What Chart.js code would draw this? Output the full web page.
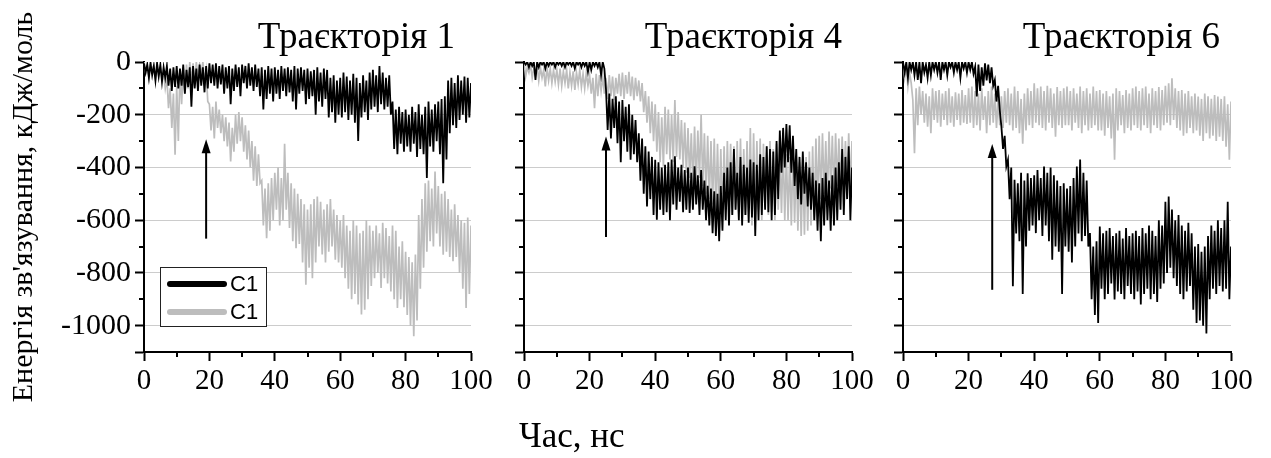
<!DOCTYPE html>
<html>
<head>
<meta charset="utf-8">
<script src="https://cdn.jsdelivr.net/npm/chart.js@4/dist/chart.umd.min.js"></script>
<style>
  body { margin: 0; background: #fff; }
  #fig { position: relative; width: 1271px; height: 458px; overflow: hidden; }
  #fig canvas { position: absolute; top: 0; }
  #xtitle { position: absolute; left: 519px; top: 420px; font: 35px/32px 'Liberation Serif', 'Times New Roman', serif; color: #000; white-space: nowrap; }
</style>
</head>
<body>
<div id="fig">
  <canvas id="p1" width="500" height="458" style="left:0px"></canvas>
  <canvas id="p2" width="400" height="458" style="left:480px"></canvas>
  <canvas id="p3" width="411" height="458" style="left:860px"></canvas>
  <div id="xtitle">Час, нс</div>
</div>
<script>
// крок запису, нс (значення читаються парами: верх / низ смуги шуму)
const stepNs = 0.5;

const panelTitles = ['Траєкторія 1', 'Траєкторія 4', 'Траєкторія 6'];
const seriesLabels = ['C1', 'C1'];
const yAxisTitle = "Енергія зв'язування, кДж/моль";
const yTickLabels = [0, -200, -400, -600, -800, -1000];
const xTickLabels = [0, 20, 40, 60, 80, 100];

// стрілки: час, нижній кінець, вістря
const arrowX = [19, 25, 27.2];
const arrowFrom = [-670, -664, -864];
const arrowTo = [-293, -283, -311];

// Траєкторія 1
const p1Black = [
  -5, -40, -10, -60, -5, -50, -15, -70, -5, -55, -10, -75, -20, -60, -15, -90, -25, -110, -20, -95,
  -15, -100, -25, -90, -10, -120, -30, -95, -20, -170, -15, -100, -25, -110, -10, -90, -20, -115, -15, -100,
  -5, -80, -10, -90, -5, -100, -15, -85, -10, -120, -20, -100, -15, -160, -25, -110, -10, -95, -20, -130,
  -10, -80, -15, -100, -5, -90, -20, -110, -10, -95, -25, -130, -20, -180, -30, -140, -15, -120, -25, -150,
  -20, -120, -30, -140, -15, -110, -25, -130, -20, -115, -30, -150, -15, -180, -25, -120, -20, -110, -30, -160,
  -25, -140, -35, -130, -30, -200, -20, -150, -40, -170, -25, -140, -30, -210, -60, -190, -50, -230, -70, -200,
  -60, -210, -40, -190, -55, -220, -70, -200, -45, -230, -60, -300, -80, -210, -50, -190, -70, -220, -40, -180,
  -30, -170, -50, -190, -15, -160, -40, -180, -60, -170, -50, -200, -150, -330, -180, -350, -170, -310, -190, -340,
  -180, -320, -200, -340, -170, -310, -190, -360, -160, -330, -200, -350, -170, -440, -150, -320, -180, -340, -160, -300,
  -150, -350, -140, -460, -130, -370, -70, -270, -60, -240, -80, -250, -50, -220, -70, -200, -55, -230, -60, -210, -80
];
const p1Grey = [
  0, -40, -10, -55, 0, -30, -15, -62, -5, -50, -20, -60, -40, -100, -60, -175, -100, -250, -120, -352,
  -90, -300, -30, -160, -25, -120, -10, -100, 0, -80, -5, -90, 0, -60, -10, -50, 0, -70, -30, -150,
  -160, -260, -170, -290, -150, -250, -180, -270, -200, -300, -210, -320, -230, -377, -250, -340, -200, -310, -190, -300,
  -210, -340, -240, -370, -260, -400, -300, -450, -320, -470, -350, -460, -450, -620, -480, -668, -460, -640, -440, -600,
  -420, -560, -400, -620, -440, -600, -310, -560, -420, -630, -460, -680, -480, -706, -500, -690, -520, -760, -540, -845,
  -560, -780, -540, -820, -520, -760, -510, -700, -530, -730, -560, -760, -540, -720, -520, -700, -560, -750, -580, -760,
  -600, -780, -580, -820, -620, -860, -640, -900, -600, -880, -620, -920, -650, -958, -640, -940, -600, -900, -620, -850,
  -640, -820, -620, -800, -650, -857, -610, -820, -630, -840, -660, -870, -620, -900, -640, -933, -700, -900, -680, -930,
  -720, -960, -740, -1000, -760, -1040, -730, -980, -580, -860, -520, -780, -460, -720, -450, -680, -480, -700, -415, -650,
  -470, -700, -500, -731, -490, -720, -520, -740, -560, -756, -540, -740, -580, -800, -600, -860, -610, -933, -590, -880, -620
];

// Траєкторія 4
const p2Black = [
  0, -10, 0, -20, 0, -15, 0, -68, 0, -20, 0, -10, 0, -25, 0, -15, 0, -10, 0, -20,
  0, -10, 0, -15, 0, -20, 0, -10, 0, -15, 0, -25, 0, -10, 0, -20, 0, -15, 0, -37,
  0, -30, 0, -15, 0, -20, 0, -50, 0, -25, -105, -258, -120, -290, -140, -250, -130, -308, -150, -380,
  -144, -300, -170, -340, -160, -371, -200, -350, -220, -380, -270, -450, -290, -500, -320, -548, -340, -520, -360, -580,
  -371, -598, -380, -560, -400, -580, -390, -570, -380, -600, -370, -540, -358, -560, -400, -530, -390, -570, -410, -560,
  -400, -573, -420, -560, -396, -540, -430, -580, -410, -560, -450, -600, -470, -620, -480, -649, -490, -660, -500, -680,
  -470, -640, -420, -600, -400, -620, -380, -580, -330, -560, -420, -600, -360, -620, -390, -580, -400, -610, -370, -590,
  -380, -660, -390, -600, -350, -580, -360, -560, -320, -570, -330, -600, -340, -580, -300, -520, -260, -420, -250, -400,
  -235, -380, -240, -420, -280, -470, -330, -520, -360, -540, -340, -500, -380, -548, -400, -560, -420, -600, -450, -640,
  -460, -680, -440, -620, -420, -600, -450, -640, -430, -620, -400, -600, -380, -560, -330, -580, -360, -520, -320, -600, -400
];
const p2Grey = [
  0, -55, -20, -40, -10, -60, -25, -50, -15, -70, -20, -60, -30, -93, -20, -70, -25, -80, -30, -75,
  -30, -85, -25, -90, -35, -80, -30, -100, -40, -90, -35, -106, -40, -85, -30, -95, -45, -100, -40, -90,
  -50, -120, -60, -175, -45, -130, -50, -110, -55, -120, -60, -140, -50, -130, -55, -145, -60, -120, -45, -130,
  -40, -140, -50, -120, -37, -130, -55, -145, -60, -130, -70, -150, -80, -190, -110, -230, -130, -270, -150, -300,
  -160, -340, -190, -380, -210, -396, -170, -350, -180, -370, -200, -380, -144, -360, -190, -370, -220, -400, -230, -420,
  -250, -440, -270, -472, -245, -460, -260, -440, -200, -470, -270, -500, -280, -520, -300, -540, -290, -560, -310, -580,
  -330, -600, -320, -560, -300, -540, -310, -580, -320, -560, -300, -570, -290, -600, -330, -580, -300, -560, -250, -620,
  -270, -580, -300, -560, -290, -600, -310, -550, -320, -580, -300, -570, -330, -600, -310, -560, -340, -573, -320, -600,
  -350, -600, -360, -620, -340, -610, -370, -640, -380, -660, -390, -655, -360, -640, -340, -620, -320, -600, -290, -540,
  -280, -520, -270, -500, -300, -516, -264, -480, -280, -500, -270, -470, -290, -490, -283, -472, -300, -460, -270, -480, -300
];

// Траєкторія 6
const p3Black = [
  0, -40, 0, -60, 0, -30, 0, -50, 0, -68, 0, -80, 0, -40, -10, -60, 0, -50, 0, -30,
  0, -40, 0, -68, 0, -30, 0, -50, 0, -20, 0, -40, 0, -30, 0, -60, 0, -25, 0, -40,
  0, -30, 0, -45, -18, -131, -10, -110, -20, -90, -5, -70, -10, -80, -20, -90, -68, -150, -90, -182,
  -245, -330, -280, -396, -371, -520, -400, -851, -447, -650, -460, -680, -420, -880, -450, -700, -422, -640, -440, -620,
  -430, -649, -410, -600, -440, -660, -396, -620, -420, -680, -400, -750, -430, -700, -450, -720, -470, -880, -460, -700,
  -480, -720, -470, -760, -440, -700, -396, -650, -370, -680, -420, -660, -450, -700, -649, -900, -700, -960, -680, -990,
  -624, -860, -650, -900, -640, -880, -630, -840, -660, -901, -650, -870, -640, -880, -670, -900, -630, -850, -660, -880,
  -650, -900, -640, -870, -660, -920, -630, -880, -650, -860, -620, -900, -640, -880, -660, -910, -600, -860, -620, -840,
  -530, -800, -510, -780, -560, -820, -600, -850, -580, -880, -620, -900, -640, -870, -610, -850, -650, -940, -700, -990,
  -690, -980, -720, -1000, -700, -1030, -660, -900, -620, -860, -640, -880, -600, -850, -630, -870, -600, -860, -530, -900, -700
];
const p3Grey = [
  0, -60, -20, -93, -40, -80, -144, -346, -100, -240, -93, -200, -110, -230, -120, -245, -130, -270, -100, -220,
  -110, -230, -106, -245, -120, -220, -110, -240, -100, -230, -130, -245, -115, -220, -120, -240, -106, -230, -125, -235,
  -100, -230, -93, -250, -110, -240, -120, -260, -100, -220, -130, -270, -110, -240, -93, -230, -120, -250, -140, -240,
  -130, -250, -110, -230, -100, -240, -120, -260, -93, -250, -110, -270, -140, -310, -120, -260, -100, -240, -110, -250,
  -81, -230, -100, -240, -93, -250, -110, -260, -90, -230, -100, -250, -120, -283, -95, -240, -110, -250, -100, -240,
  -93, -240, -110, -260, -100, -230, -120, -250, -93, -270, -110, -240, -100, -260, -120, -250, -93, -240, -110, -260,
  -106, -260, -120, -280, -110, -250, -130, -290, -120, -371, -100, -260, -110, -240, -125, -270, -106, -250, -120, -260,
  -100, -240, -93, -250, -110, -260, -100, -240, -93, -250, -120, -270, -100, -240, -110, -250, -95, -260, -106, -240,
  -90, -230, -81, -240, -62, -220, -100, -250, -110, -260, -106, -280, -120, -270, -110, -250, -130, -270, -120, -260,
  -131, -280, -140, -300, -120, -270, -130, -290, -140, -280, -125, -300, -131, -283, -140, -300, -130, -321, -160, -371, -150
];

const blackColor = '#000000';
const greyColor = '#bdbdbd';
const serif = "'Liberation Serif', 'Times New Roman', serif";

function isMajorY(v) { return v % 200 === 0 || v === -1100; }

function toPoints(values) {
  return values.map((v, i) => ({ x: i * stepNs, y: v }));
}

// малі поділки, стрілка, заголовок панелі, легенда
const decor = {
  id: 'decor',
  afterDraw(chart, args, opts) {
    const { ctx, chartArea, scales: { x, y } } = chart;
    ctx.save();
    ctx.strokeStyle = '#000';
    ctx.lineWidth = 2;
    ctx.beginPath();
    for (let v = -1100; v <= 0; v += 100) {
      if (isMajorY(v)) continue;
      const py = Math.round(y.getPixelForValue(v));
      ctx.moveTo(chartArea.left - 5, py);
      ctx.lineTo(chartArea.left, py);
    }
    for (let v = 10; v < 100; v += 20) {
      const px = Math.round(x.getPixelForValue(v));
      ctx.moveTo(px, chartArea.bottom);
      ctx.lineTo(px, chartArea.bottom + 5);
    }
    ctx.stroke();

    // стрілка
    const ax = x.getPixelForValue(opts.arrowX);
    const yFrom = y.getPixelForValue(opts.arrowFrom);
    const yTo = y.getPixelForValue(opts.arrowTo);
    ctx.beginPath();
    ctx.moveTo(ax, yFrom);
    ctx.lineTo(ax, yTo + 10);
    ctx.stroke();
    ctx.beginPath();
    ctx.fillStyle = '#000';
    ctx.moveTo(ax, yTo);
    ctx.lineTo(ax - 4.5, yTo + 14);
    ctx.lineTo(ax + 4.5, yTo + 14);
    ctx.closePath();
    ctx.fill();

    // заголовок
    ctx.font = '37px ' + serif;
    ctx.textAlign = 'right';
    ctx.textBaseline = 'alphabetic';
    ctx.fillText(opts.title, chartArea.right - opts.titleInset, chartArea.top - 14);

    if (opts.legend) {
      const lx = chartArea.left + 16, ly = chartArea.top + 205;
      ctx.fillStyle = '#fff';
      ctx.fillRect(lx, ly, 106, 59);
      ctx.lineWidth = 1;
      ctx.strokeStyle = '#222';
      ctx.strokeRect(lx + 0.5, ly + 0.5, 106, 59);
      ctx.lineCap = 'round';
      ctx.lineWidth = 6;
      ctx.font = "22px 'Liberation Sans', Arial, sans-serif";
      ctx.textAlign = 'left';
      ctx.textBaseline = 'middle';
      chart.data.datasets.forEach((ds, i) => {
        const yy = ly + 17 + i * 28;
        ctx.strokeStyle = ds.borderColor;
        ctx.beginPath();
        ctx.moveTo(lx + 10, yy);
        ctx.lineTo(lx + 64, yy);
        ctx.stroke();
        ctx.fillStyle = '#000';
        ctx.fillText(ds.label, lx + 70, yy + 1);
      });
    }
    ctx.restore();
  }
};

function makePanel(id, idx, black, grey, cfg) {
  new Chart(document.getElementById(id), {
    type: 'line',
    data: {
      datasets: [
        { label: seriesLabels[0], data: toPoints(black), borderColor: blackColor, borderWidth: 1.8, pointRadius: 0, tension: 0 },
        { label: seriesLabels[1], data: toPoints(grey), borderColor: greyColor, borderWidth: 1.7, pointRadius: 0, tension: 0 }
      ]
    },
    options: {
      responsive: false,
      animation: false,
      events: [],
      parsing: false,
      layout: { padding: { top: 62, right: cfg.padRight, left: 0, bottom: 0 } },
      plugins: {
        legend: { display: false },
        tooltip: { enabled: false },
        decor: {
          arrowX: arrowX[idx], arrowFrom: arrowFrom[idx], arrowTo: arrowTo[idx],
          title: panelTitles[idx], titleInset: cfg.titleInset, legend: idx === 0
        }
      },
      scales: {
        x: {
          type: 'linear', min: 0, max: 100,
          afterFit: (s) => { s.height = 106; },
          border: { display: true, color: '#000', width: 2 },
          grid: {
            drawOnChartArea: false, drawTicks: true, tickLength: 9, tickWidth: 2,
            tickColor: (c) => (c.tick && xTickLabels.includes(c.tick.value)) ? '#000' : 'rgba(0,0,0,0)'
          },
          ticks: {
            stepSize: 10, autoSkip: false, maxRotation: 0, padding: 3, color: '#000',
            font: { family: serif, size: 29 },
            callback: (v) => xTickLabels.includes(v) ? String(v) : ''
          }
        },
        y: {
          type: 'linear', min: -1100, max: 0,
          afterFit: (s) => { s.width = cfg.yWidth; },
          border: { display: true, color: '#000', width: 2 },
          grid: {
            drawTicks: true, tickLength: 9, tickWidth: 2, lineWidth: 1,
            color: (c) => (c.tick && c.tick.value < 0 && yTickLabels.includes(c.tick.value)) ? '#cccccc' : 'rgba(0,0,0,0)',
            tickColor: (c) => (c.tick && isMajorY(c.tick.value)) ? '#000' : 'rgba(0,0,0,0)'
          },
          ticks: {
            stepSize: 100, autoSkip: false, padding: 4, color: '#000',
            font: { family: serif, size: 30 },
            callback: (v) => (cfg.showLabels && yTickLabels.includes(v)) ? String(v) : ''
          },
          title: {
            display: cfg.showLabels, text: yAxisTitle, color: '#000',
            font: { family: serif, size: 30 }, padding: { top: 6, bottom: 0 }
          }
        }
      }
    },
    plugins: [decor]
  });
}

makePanel('p1', 0, p1Black, p1Grey, { yWidth: 144, padRight: 29, titleInset: 16, showLabels: true });
makePanel('p2', 1, p2Black, p2Grey, { yWidth: 44, padRight: 28, titleInset: 10, showLabels: false });
makePanel('p3', 2, p3Black, p3Grey, { yWidth: 43, padRight: 40, titleInset: 11, showLabels: false });
</script>
</body>
</html>
